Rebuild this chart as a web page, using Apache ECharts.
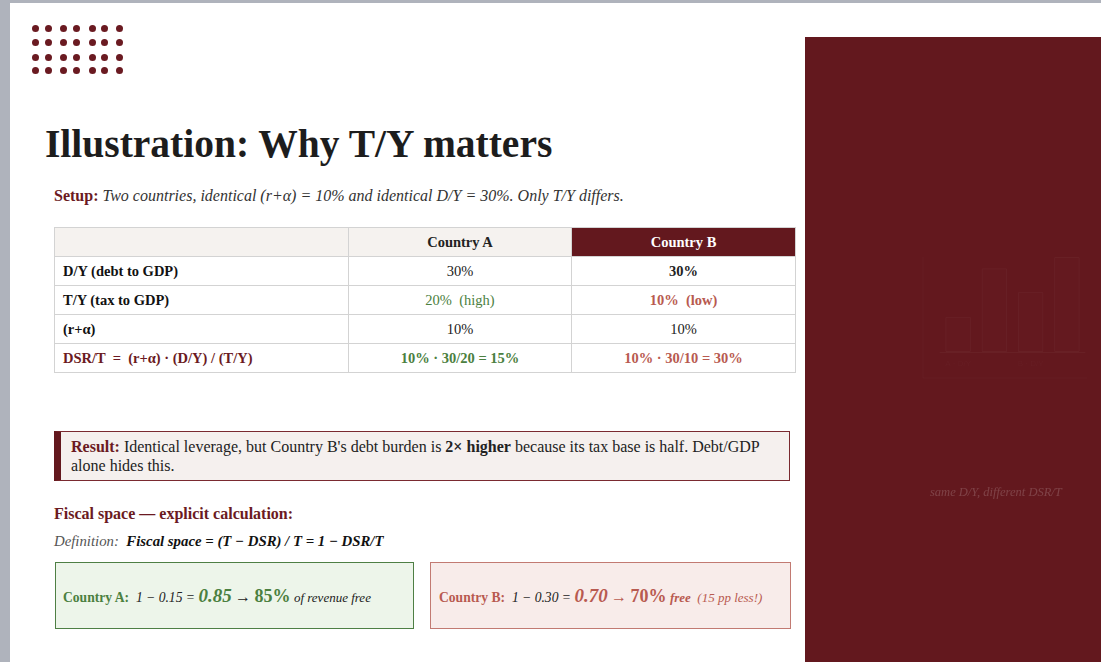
<!DOCTYPE html>
<html>
<head>
<meta charset="utf-8">
<script src="https://cdn.jsdelivr.net/npm/echarts@6/dist/echarts.min.js"></script>
<style>
  html, body { margin: 0; padding: 0; }
  body {
    width: 1101px; height: 662px; overflow: hidden; position: relative;
    background: #afb3bc; font-family: "Liberation Serif", "DejaVu Serif", serif; color: #222;
  }
  .slide { position: absolute; left: 10px; top: 3px; right: 0; bottom: 0; background: #fff; }
  .dot { position: absolute; width: 7px; height: 7px; border-radius: 50%; background: #6a1a21; }
  .abs { position: absolute; white-space: nowrap; }
  .title { left: 45px; top: 121px; font-size: 39.5px; font-weight: bold; color: #1d1d1d; }
  .setup { left: 54px; top: 187px; font-size: 16px; font-style: italic; color: #333; }
  .dr { color: #6b1a22; font-weight: bold; font-style: normal; }
  table { position: absolute; left: 54px; top: 227px; width: 742px; border-collapse: collapse; font-size: 14.5px; }
  td, th { border: 1.5px solid #d3d3d3; height: 28px; padding: 0 8px; text-align: center; }
  th { background: #f5f2ef; font-weight: bold; color: #222; }
  th.b { background: #63181e; color: #fff; }
  td.l { text-align: left; font-weight: bold; color: #111; }
  .g { color: #4b8040; }
  .r { color: #b85a50; }
  .result { left: 54px; top: 431px; width: 736px; height: 50px; background: #f5f0ee;
    border: 1px solid #7a2a30; border-left: 7px solid #63181e; font-size: 16px; line-height: 19px;
    white-space: normal; padding: 0 20px 0 10px; box-sizing: border-box; display: flex; align-items: center; }
  .fs { left: 54px; top: 505px; font-size: 16px; }
  .def { left: 54px; top: 533px; font-size: 14.8px; font-style: italic; color: #555; }
  .box { top: 562px; height: 67px; box-sizing: border-box; display: flex; align-items: center;
    padding-left: 7px; font-size: 13.6px; }
  .boxA { left: 55px; width: 359px; background: #edf5ea; border: 1.5px solid #4e7f44; }
  .boxB { left: 430px; width: 361px; background: #f8ecea; border: 1.5px solid #c27a72; padding-left: 8px; }
  .panel { position: absolute; left: 805px; top: 37px; width: 296px; height: 625px; background: #63181e; }
  #chart { position: absolute; left: 0; top: 0; width: 296px; height: 625px; }
</style>
</head>
<body>
<div class="slide"></div>
<div id="dots"></div>

<div class="abs title">Illustration: Why T/Y matters</div>
<div class="abs setup"><span class="dr">Setup:</span> Two countries, identical (r+α) = 10% and identical D/Y = 30%. Only T/Y differs.</div>

<table>
  <tr><th style="width:277px"></th><th style="width:206px">Country A</th><th class="b">Country B</th></tr>
  <tr><td class="l">D/Y (debt to GDP)</td><td>30%</td><td><b>30%</b></td></tr>
  <tr><td class="l">T/Y (tax to GDP)</td><td class="g">20%&nbsp; (high)</td><td class="r"><b>10%&nbsp; (low)</b></td></tr>
  <tr><td class="l">(r+α)</td><td>10%</td><td>10%</td></tr>
  <tr><td class="l" style="color:#6b1a22">DSR/T &nbsp;= &nbsp;(r+α) · (D/Y) / (T/Y)</td><td class="g"><b>10% · 30/20 = 15%</b></td><td class="r"><b>10% · 30/10 = 30%</b></td></tr>
</table>

<div class="abs result"><div><span class="dr">Result:</span> Identical leverage, but Country B's debt burden is <b>2× higher</b> because its tax base is half. Debt/GDP alone hides this.</div></div>

<div class="abs fs dr">Fiscal space — explicit calculation:</div>
<div class="abs def">Definition: &nbsp;<b style="color:#111">Fiscal space = (T − DSR) / T = 1 − DSR/T</b></div>

<div class="abs box boxA"><span><b class="g">Country A:</b>&nbsp; <i>1 − 0.15 =</i> <b class="g" style="font-size:19px;font-style:italic">0.85</b> <span style="font-size:16px">→</span> <b class="g" style="font-size:18px">85%</b> <i style="font-size:13px">of revenue free</i></span></div>
<div class="abs box boxB"><span><b class="r">Country B:</b>&nbsp; <i>1 − 0.30 =</i> <b class="r" style="font-size:19px;font-style:italic">0.70</b> <span class="r" style="font-size:16px">→</span> <b class="r" style="font-size:18px">70%</b> <i class="r" style="font-size:13px"><b>free</b>&nbsp; (15 pp less!)</i></span></div>

<div class="panel"><div id="chart"></div></div>

<script>
// faint bar sketch inside the dark panel
const barCategories = ['A · D/Y', 'A · DSR/T', 'B · D/Y', 'B · DSR/T'];
const barValues = [3.7, 8.8, 6.3, 10];
const dotCols = [35, 48, 63, 76, 92, 104, 119];
const dotRows = [28, 42, 57, 70];

// decorative dot grid
const dots = document.getElementById('dots');
dotRows.forEach(y => dotCols.forEach(x => {
  const d = document.createElement('div');
  d.className = 'dot';
  d.style.left = (x - 3.5) + 'px';
  d.style.top = (y - 3.5) + 'px';
  dots.appendChild(d);
}));

const chart = echarts.init(document.getElementById('chart'));
const faint = 'rgba(255,255,255,0.035)';
chart.setOption({
  animation: false,
  grid: {left: 135, right: 16, top: 220, bottom: 310},
  xAxis: {
    type: 'category', data: barCategories,
    axisLine: {lineStyle: {color: faint}}, axisTick: {show: false},
    axisLabel: {color: 'rgba(255,255,255,0.025)', fontSize: 8}
  },
  yAxis: {type: 'value', min: 0, max: 10, show: false},
  series: [{
    type: 'bar', data: barValues, barWidth: '70%',
    itemStyle: {color: 'rgba(255,255,255,0.008)', borderColor: faint, borderWidth: 1}
  }],
  graphic: [{
    type: 'polyline', silent: true,
    shape: {points: [[118, 220], [118, 341], [282, 341]]},
    style: {stroke: 'rgba(255,255,255,0.025)', fill: null, lineWidth: 1}
  }, {
    type: 'text', left: 125, top: 449,
    style: {text: 'same D/Y, different DSR/T', fill: 'rgba(255,255,255,0.18)',
      font: 'italic 12.5px "Liberation Serif"'}
  }]
});
</script>
</body>
</html>
